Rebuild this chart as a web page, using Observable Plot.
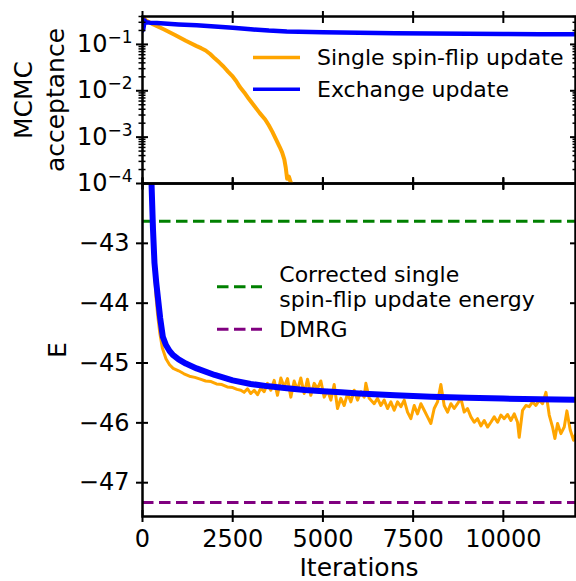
<!DOCTYPE html>
<html><head><meta charset="utf-8">
<script src="https://cdn.jsdelivr.net/npm/d3@7"></script>
<script src="https://cdn.jsdelivr.net/npm/@observablehq/plot@0.6"></script>
<style>
html,body{margin:0;padding:0;background:#fff;}
#wrap{position:relative;width:576px;height:581px;overflow:hidden;font-family:"DejaVu Sans",sans-serif;}
#wrap svg{position:absolute;left:0;}
</style></head><body><div id="wrap"></div>
<script>
// ---------- data ----------
const xTicks = [0, 2500, 5000, 7500, 10000];
const accTicks = [1e-4, 1e-3, 1e-2, 1e-1];
const accMinor = [2e-4,3e-4,4e-4,5e-4,6e-4,7e-4,8e-4,9e-4,2e-3,3e-3,4e-3,5e-3,6e-3,7e-3,8e-3,9e-3,2e-2,3e-2,4e-2,5e-2,6e-2,7e-2,8e-2,9e-2,0.2,0.3,0.4];
const eTicks = [-47, -46, -45, -44, -43];

const seriesNames = ["Single spin-flip update", "Exchange update"];
const refNames = ["Corrected single\nspin-flip update energy", "DMRG"];
const accLabel = "MCMC\nacceptance";
const eLabel = "E";
const xLabel = "Iterations";

const correctedEnergy = -42.63;
const dmrgEnergy = -47.33;

// MCMC acceptance, single spin-flip
const accSingleIter = [0, 50, 100, 300, 600, 900, 1200, 1500, 1625, 1750, 1875, 2000, 2125, 2250, 2370, 2484, 2600, 2700, 2820, 2946, 3100, 3250, 3400, 3500, 3600, 3700, 3800, 3869, 3930, 3970, 4008, 4060, 4100, 4150, 4200, 4300, 4500];
const accSingleVal  = [0.40, 0.36, 0.33, 0.27, 0.21, 0.16, 0.12, 0.092, 0.083, 0.074, 0.062, 0.050, 0.041, 0.033, 0.026, 0.021, 0.016, 0.012, 0.0092, 0.0067, 0.0047, 0.0033, 0.0024, 0.0018, 0.0013, 0.0009, 0.00062, 0.00047, 0.00033, 0.00022, 0.000126, 0.00014, 0.00011, 0.00009, 0.00008, 0.00004, 0.00001];
// MCMC acceptance, exchange
const accExchIter = [0, 25, 60, 100, 200, 400, 700, 1000, 1500, 2000, 2500, 3000, 3500, 4000, 5000, 6000, 7000, 8000, 9000, 10000, 11000, 12000];
const accExchVal  = [0.20, 0.22, 0.33, 0.30, 0.295, 0.288, 0.279, 0.27, 0.258, 0.243, 0.228, 0.212, 0.199, 0.191, 0.184, 0.179, 0.175, 0.172, 0.170, 0.168, 0.166, 0.165];

// Energy, single spin-flip
const eSingleIter = [0, 150, 240, 285, 325, 375, 420, 480, 550, 650, 750, 850, 1000, 1150, 1300, 1450, 1600, 1750, 1900, 2050, 2200, 2350, 2500, 2620,
  2725, 2817, 2910, 3002, 3095, 3187, 3279, 3372, 3464, 3557, 3649, 3741, 3834, 3926, 4019, 4111, 4203, 4296, 4388, 4481, 4573, 4665, 4758, 4850, 4943,
  5035, 5127, 5220, 5312, 5405, 5497, 5589, 5682, 5774, 5867, 5959, 6051, 6144, 6190, 6283, 6421, 6513, 6606, 6698, 6791, 6883, 6975, 7068, 7160, 7253,
  7345, 7437, 7530, 7622, 7715, 7807, 7899, 7992, 8084, 8176, 8269, 8361, 8454, 8546, 8638, 8731, 8823, 8916, 9008, 9101, 9193, 9285, 9378, 9470, 9563,
  9655, 9747, 9840, 9932, 10025, 10117, 10209, 10302, 10394, 10440, 10533, 10625, 10718, 10810, 10902, 10995, 11087, 11180, 11272, 11364, 11429, 11503,
  11595, 11688, 11762, 11854, 11947, 12000];
const eSingleVal = [-32, -39.5, -42.0, -42.9, -43.4, -43.9, -44.2, -44.5, -44.75, -44.93, -45.03, -45.09, -45.13, -45.18, -45.22, -45.24, -45.27, -45.3, -45.31, -45.35, -45.36, -45.4, -45.41, -45.44,
  -45.455, -45.49, -45.43, -45.51, -45.455, -45.53, -45.42, -45.48, -45.34, -45.455, -45.29, -45.54, -45.25, -45.40, -45.26, -45.57, -45.30, -45.455, -45.25, -45.51, -45.27, -45.54, -45.34, -45.43, -45.30,
  -45.57, -45.455, -45.62, -45.36, -45.76, -45.59, -45.71, -45.51, -45.65, -45.455, -45.62, -45.48, -45.57, -45.34, -45.59, -45.68, -45.59, -45.71, -45.62, -45.76, -45.65, -45.79, -45.65, -45.73, -45.62,
  -45.82, -45.93, -45.71, -45.85, -45.68, -45.79, -45.90, -46.01, -45.76, -45.65, -45.36, -45.71, -45.82, -45.68, -45.76, -45.68, -45.59, -45.82, -45.76, -45.90, -45.99, -45.93, -46.05, -45.96, -46.07,
  -45.99, -45.90, -45.99, -45.87, -45.93, -45.86, -45.96, -45.85, -45.99, -46.24, -45.79, -45.71, -45.73, -45.65, -45.71, -45.62, -45.68, -45.49, -45.87, -46.07, -46.26, -46.01,
  -46.18, -46.07, -45.80, -46.12, -46.29, -46.20];
// Energy, exchange
const eExchIter = [0, 150, 250, 290, 332, 380, 424, 490, 563, 650, 750, 850, 1000, 1200, 1500, 2000, 2500, 3000, 3500, 4000, 4500, 5000, 5500, 6000, 7000, 8000, 9000, 10000, 11000, 12000];
const eExchVal  = [-34, -39, -42.0, -42.75, -43.33, -43.65, -43.89, -44.25, -44.56, -44.7, -44.8, -44.87, -44.94, -45.01, -45.09, -45.2, -45.29, -45.35, -45.39, -45.42, -45.45, -45.47, -45.49, -45.51, -45.54, -45.565, -45.58, -45.595, -45.605, -45.615];

const zip = (xs, ys) => xs.map((x, i) => ({iter: x, value: ys[i]}));
const accSingle = zip(accSingleIter, accSingleVal);
const accExch = zip(accExchIter, accExchVal);
const eSingle = zip(eSingleIter, eSingleVal);
const eExch = zip(eExchIter, eExchVal);

// ---------- styling ----------
const fontFamily = '"DejaVu Sans", sans-serif';
const tickFont = 24, supFont = 17, labelFont = 25, legendFont = 22;
const fmtPow = d => "10^" + Math.round(Math.log10(d));
const fmtNum = d => (d < 0 ? "\u2212" + Math.abs(d) : String(d));

const tickOpts = {fill: "none", strokeWidth: 2};

const topPlot = Plot.plot({
  width: 576, height: 183, marginTop: 16, marginBottom: 0, marginLeft: 142, marginRight: 1,
  style: {fontFamily, overflow: "visible", background: "none", color: "black"},
  x: {domain: [0, 12000]},
  y: {type: "log", domain: [1e-4, 0.4]},
  marks: [
    Plot.line(accSingle, {x: "iter", y: "value", stroke: "orange", strokeWidth: 4, clip: true}),
    Plot.line(accExch, {x: "iter", y: "value", stroke: "blue", strokeWidth: 4.5, clip: true}),
    Plot.frame({strokeWidth: 2.5}),
    Plot.axisY({anchor: "left", ticks: accTicks, tickSize: 12, dx: 6, ...tickOpts}),
    Plot.axisY({anchor: "left", ticks: accMinor, tickSize: 7, dx: 3.5, fill: "none", strokeWidth: 1.5}),
    Plot.axisY({anchor: "right", ticks: accTicks, tickSize: 12, dx: -6, ...tickOpts}),
    Plot.axisY({anchor: "right", ticks: accMinor, tickSize: 7, dx: -3.5, fill: "none", strokeWidth: 1.5}),
    Plot.axisY({anchor: "left", ticks: accTicks, tickSize: 0, tickPadding: 10, stroke: "none", tickFormat: fmtPow, fontSize: tickFont, label: null}),
    Plot.axisX({anchor: "top", ticks: xTicks, tickSize: 12, dy: 6, ...tickOpts}),
    Plot.axisX({anchor: "bottom", ticks: xTicks, tickSize: 12, dy: -6, ...tickOpts}),
    Plot.text([accLabel], {text: d => d, frameAnchor: "left", dx: -104.5, rotate: -90, fontSize: labelFont, lineHeight: 1.25, lineAnchor: "middle", textAnchor: "middle"})
  ]
});

// turn "10^-1" tick labels into 10 with a raised exponent
topPlot.querySelectorAll("text").forEach(t => {
  const s = t.textContent;
  const m = /^10\^(-?\d+)$/.exec(s);
  if (!m) return;
  const e = +m[1];
  t.textContent = "";
  const ns = "http://www.w3.org/2000/svg";
  const a = document.createElementNS(ns, "tspan");
  a.textContent = "10";
  const b = document.createElementNS(ns, "tspan");
  b.textContent = (e < 0 ? "\u2212" : "") + Math.abs(e);
  b.setAttribute("font-size", supFont);
  b.setAttribute("dy", "-9");
  t.appendChild(a); t.appendChild(b);
});

const botPlot = Plot.plot({
  width: 576, height: 398, marginTop: 0, marginBottom: 65, marginLeft: 142, marginRight: 1,
  style: {fontFamily, overflow: "visible", background: "none", color: "black"},
  x: {domain: [0, 12000]},
  y: {domain: [-47.565, -42]},
  marks: [
    Plot.ruleY([correctedEnergy], {stroke: "green", strokeWidth: 3, strokeDasharray: "11.5,5.5"}),
    Plot.ruleY([dmrgEnergy], {stroke: "purple", strokeWidth: 3, strokeDasharray: "11.5,5.5"}),
    Plot.line(eSingle, {x: "iter", y: "value", stroke: "orange", strokeWidth: 3, clip: true}),
    Plot.line(eExch, {x: "iter", y: "value", stroke: "blue", strokeWidth: 6, clip: true}),
    Plot.frame({strokeWidth: 2.5}),
    Plot.axisY({anchor: "left", ticks: eTicks, tickSize: 12, dx: 6, ...tickOpts}),
    Plot.axisY({anchor: "right", ticks: eTicks, tickSize: 12, dx: -6, ...tickOpts}),
    Plot.axisY({anchor: "left", ticks: eTicks, tickSize: 0, tickPadding: 13, stroke: "none", tickFormat: fmtNum, fontSize: tickFont, label: null}),
    Plot.axisX({anchor: "top", ticks: xTicks, tickSize: 12, dy: 6, ...tickOpts}),
    Plot.axisX({anchor: "bottom", ticks: xTicks, tickSize: 12, dy: -6, ...tickOpts}),
    Plot.axisX({anchor: "bottom", ticks: xTicks, tickSize: 0, tickPadding: 13, stroke: "none", tickFormat: fmtNum, fontSize: tickFont, label: null}),
    Plot.text([eLabel], {text: d => d, frameAnchor: "left", dx: -85, rotate: -90, fontSize: labelFont, lineAnchor: "middle", textAnchor: "middle"}),
    Plot.text([xLabel], {text: d => d, frameAnchor: "bottom", dy: 51, fontSize: labelFont, lineAnchor: "middle", textAnchor: "middle"})
  ]
});

const wrap = document.getElementById("wrap");
botPlot.style.top = "183px";
topPlot.style.top = "0px";
wrap.appendChild(botPlot);
wrap.appendChild(topPlot);

// ---------- legends ----------
const leg = d3.create("svg").attr("width", 576).attr("height", 581)
  .style("position", "absolute").style("top", "0px").style("left", "0px")
  .style("font-family", fontFamily).style("font-size", legendFont + "px");
const topColors = ["orange", "blue"];
const topRows = [57.5, 89.3];
seriesNames.forEach((name, i) => {
  leg.append("line").attr("x1", 253).attr("x2", 300).attr("y1", topRows[i]).attr("y2", topRows[i])
    .attr("stroke", topColors[i]).attr("stroke-width", 3.5);
  leg.append("text").attr("x", 317).attr("y", topRows[i]).attr("dy", "0.36em").text(name);
});
const refColors = ["green", "purple"];
const refRows = [286.7, 329.3];
refNames.forEach((name, i) => {
  leg.append("line").attr("x1", 217).attr("x2", 262).attr("y1", refRows[i]).attr("y2", refRows[i])
    .attr("stroke", refColors[i]).attr("stroke-width", 3).attr("stroke-dasharray", "11.5,5.5");
  const lines = name.split("\n");
  lines.forEach((ln, j) => {
    leg.append("text").attr("x", 279.3).attr("y", refRows[i] + (j - (lines.length - 1) / 2) * 25)
      .attr("dy", "0.36em").text(ln);
  });
});
wrap.appendChild(leg.node());
</script>
</body></html>
